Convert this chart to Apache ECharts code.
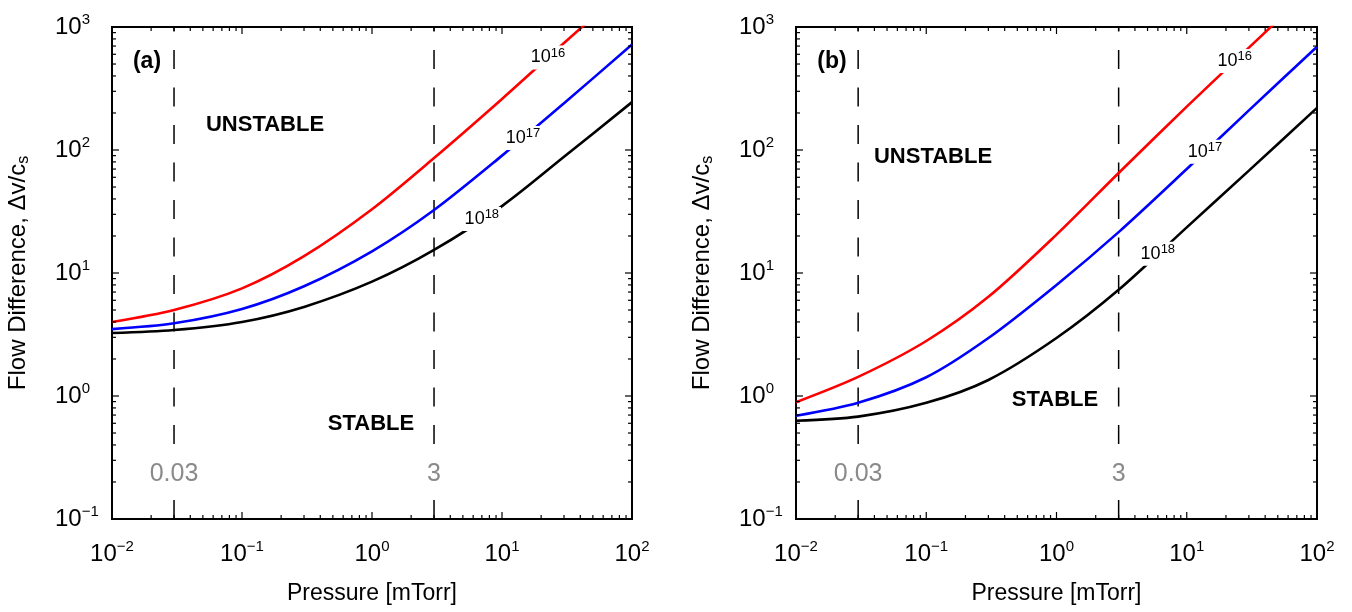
<!DOCTYPE html>
<html><head><meta charset="utf-8">
<script src="https://cdn.jsdelivr.net/npm/echarts@6/dist/echarts.min.js"></script>
<style>html,body{margin:0;padding:0;background:#fff}#c{width:1352px;height:612px}</style>
</head><body><div id="c"></div>
<script>
// ---- data ----
const pressure = [0.01, 0.03, 0.1, 0.3, 1, 3, 10, 30, 100];
const a_n16 = [4.0, 5.0, 7.5, 13.7, 33, 86, 260, 740, 2300];
const a_n17 = [3.5, 3.9, 5.1, 7.8, 15.0, 32.5, 90, 240, 720];
const a_n18 = [3.25, 3.44, 4.0, 5.3, 8.5, 15.4, 35, 88, 245];
const b_n16 = [0.89, 1.43, 2.8, 6.4, 20.5, 65, 225, 680, 2250];
const b_n17 = [0.69, 0.88, 1.42, 2.96, 8.0, 21.5, 70, 210, 690];
const b_n18 = [0.63, 0.68, 0.88, 1.35, 2.96, 7.3, 23.5, 68, 220];
const densityExp = ['16', '17', '18'];
const labelPressA = [22.6, 14.5, 7.0];
const labelPressB = [23.4, 13.8, 6.0];
const refPressures = [0.03, 3];
const refTexts = ['0.03', '3'];
const refLabelLevel = 0.232;
const xDecades = [0.01, 0.1, 1, 10, 100];
const yDecades = [0.1, 1, 10, 100, 1000];
const minorMult = [2, 3, 4, 5, 6, 7, 8, 9];
const colors = ['#ff0000', '#0000ff', '#000000'];
const FONT = '"Liberation Sans", Arial, Helvetica, sans-serif';

function interpLog(xs, ys, x) {
  const lx = Math.log10(x);
  for (let i = 0; i < xs.length - 1; i++) {
    const a = Math.log10(xs[i]), b = Math.log10(xs[i + 1]);
    if (lx >= a && lx <= b) {
      const t = (lx - a) / (b - a);
      return Math.pow(10, Math.log10(ys[i]) + t * (Math.log10(ys[i + 1]) - Math.log10(ys[i])));
    }
  }
  return ys[ys.length - 1];
}
function supFmt(v) {
  const e = Math.round(Math.log10(v));
  return '{b|10}{s|' + (e < 0 ? '\u2212' + (-e) : e) + '}';
}
const supRich = {
  b: { fontSize: 24, lineHeight: 30, fontFamily: FONT, color: '#000' },
  s: { fontSize: 15, lineHeight: 17, verticalAlign: 'top', fontFamily: FONT, color: '#000' }
};

// tick list: [x, y, major, kind]
const tickData = [];
xDecades.forEach((d, i) => {
  tickData.push([d, 1, 1, 0]);
  if (i < xDecades.length - 1) minorMult.forEach(m => tickData.push([d * m, 1, 0, 0]));
});
yDecades.forEach((d, i) => {
  tickData.push([1, d, 1, 1]);
  if (i < yDecades.length - 1) minorMult.forEach(m => tickData.push([1, d * m, 0, 1]));
});

const grids = [
  { left: 112, top: 27, width: 520, height: 492, show: true, borderColor: '#000', borderWidth: 2, backgroundColor: 'transparent' },
  { left: 796, top: 27, width: 521, height: 492, show: true, borderColor: '#000', borderWidth: 2, backgroundColor: 'transparent' }
];
const xAxes = [0, 1].map(i => ({
  type: 'log', logBase: 10, gridIndex: i, min: 0.01, max: 100,
  axisLine: { show: false }, axisTick: { show: false }, splitLine: { show: false },
  axisLabel: { formatter: supFmt, rich: supRich, margin: 20 },
  name: 'Pressure [mTorr]', nameLocation: 'middle', nameGap: 63,
  nameTextStyle: { fontSize: 23, fontFamily: FONT, color: '#000' }
}));
const yAxes = [0, 1].map(i => ({
  type: 'log', logBase: 10, gridIndex: i, min: 0.1, max: 1000,
  axisLine: { show: false }, axisTick: { show: false }, splitLine: { show: false },
  axisLabel: { formatter: supFmt, rich: supRich, margin: 57, align: 'left' },
  name: 'Flow Difference, \u0394v/c{sub|s}', nameLocation: 'middle', nameGap: 80,
  nameTextStyle: { fontSize: 24, lineHeight: 28, fontFamily: FONT, color: '#000',
    rich: { sub: { fontSize: 16, lineHeight: 20, verticalAlign: 'bottom', fontFamily: FONT, color: '#000' } } }
}));

const curveRich = {
  b: { fontSize: 18, lineHeight: 22, fontFamily: FONT, fill: '#000', color: '#000' },
  s: { fontSize: 13, lineHeight: 14, verticalAlign: 'top', fontFamily: FONT, fill: '#000', color: '#000' }
};

const panels = [
  { curves: [a_n16, a_n17, a_n18], labelX: labelPressA },
  { curves: [b_n16, b_n17, b_n18], labelX: labelPressB }
];
const series = [];
panels.forEach((p, gi) => {
  p.curves.forEach((vals, k) => {
    series.push({
      type: 'line', xAxisIndex: gi, yAxisIndex: gi, smooth: 0.3, symbol: 'none', z: 3,
      lineStyle: { color: colors[k], width: 2.6 }, clip: true,
      data: pressure.map((x, j) => [x, vals[j]])
    });
  });
  refPressures.forEach(rp => {
    series.push({
      type: 'line', xAxisIndex: gi, yAxisIndex: gi, symbol: 'none', z: 2, silent: true,
      lineStyle: { color: '#000', width: 1.5, type: [19, 18.5] },
      data: [[rp, 0.1], [rp, 1000]]
    });
  });
  // inline curve labels (white box cuts the line)
  series.push({
    type: 'custom', xAxisIndex: gi, yAxisIndex: gi, z: 15, silent: true,
    data: p.labelX.map((x, k) => [x, interpLog(pressure, p.curves[k], x), k]),
    encode: { x: 0, y: 1 },
    renderItem: (params, api) => {
      const pt = api.coord([api.value(0), api.value(1)]);
      return { type: 'text', x: pt[0], y: pt[1], z2: 20,
        style: { text: '{b|10}{s|' + densityExp[api.value(2)] + '}', rich: curveRich,
          align: 'center', verticalAlign: 'middle', backgroundColor: '#fff', padding: [1, 2, 1, 2],
          fill: '#000' } };
    }
  });
  // grey reference labels on dashed lines
  series.push({
    type: 'custom', xAxisIndex: gi, yAxisIndex: gi, z: 15, silent: true,
    data: refPressures.map((x, k) => [x, refLabelLevel, k]),
    encode: { x: 0, y: 1 },
    renderItem: (params, api) => {
      const pt = api.coord([api.value(0), api.value(1)]);
      return { type: 'text', x: pt[0], y: pt[1], z2: 20,
        style: { text: refTexts[api.value(2)], font: '25px ' + FONT, fill: '#8a8a8a',
          align: 'center', verticalAlign: 'middle', backgroundColor: '#fff', padding: [3, 1, 3, 1] } };
    }
  });
  series.push({
    type: 'custom', xAxisIndex: gi, yAxisIndex: gi, z: 12, silent: true,
    data: tickData, encode: { x: 0, y: 1 },
    renderItem: (params, api) => {
      const cs = params.coordSys;
      const len = api.value(2) ? 7 : 4;
      const st = { stroke: '#000', lineWidth: 1.2 };
      if (api.value(3) === 0) {
        const x = api.coord([api.value(0), 1])[0];
        return { type: 'group', children: [
          { type: 'line', shape: { x1: x, y1: cs.y + cs.height, x2: x, y2: cs.y + cs.height - len }, style: st },
          { type: 'line', shape: { x1: x, y1: cs.y, x2: x, y2: cs.y + len }, style: st }
        ] };
      }
      const y = api.coord([1, api.value(1)])[1];
      return { type: 'group', children: [
        { type: 'line', shape: { x1: cs.x, y1: y, x2: cs.x + len, y2: y }, style: st },
        { type: 'line', shape: { x1: cs.x + cs.width, y1: y, x2: cs.x + cs.width - len, y2: y }, style: st }
      ] };
    }
  });
});

function txt(t, x, y, size, bold) {
  return { type: 'text', x: x, y: y, z: 20, silent: true,
    style: { text: t, align: 'center', verticalAlign: 'middle', fill: '#000',
      font: (bold ? 'bold ' : '') + size + 'px ' + FONT } };
}
const graphic = [
  txt('(a)', 147, 62, 23, true),
  txt('UNSTABLE', 265, 125, 22, true),
  txt('STABLE', 371, 424, 22, true),
  txt('(b)', 832, 62, 23, true),
  txt('UNSTABLE', 933, 157, 22, true),
  txt('STABLE', 1055, 400, 22, true)
];

const chart = echarts.init(document.getElementById('c'), null, { renderer: 'canvas' });
chart.setOption({
  animation: false,
  backgroundColor: '#fff',
  textStyle: { fontFamily: FONT },
  grid: grids, xAxis: xAxes, yAxis: yAxes, series: series, graphic: graphic
});
</script></body></html>
